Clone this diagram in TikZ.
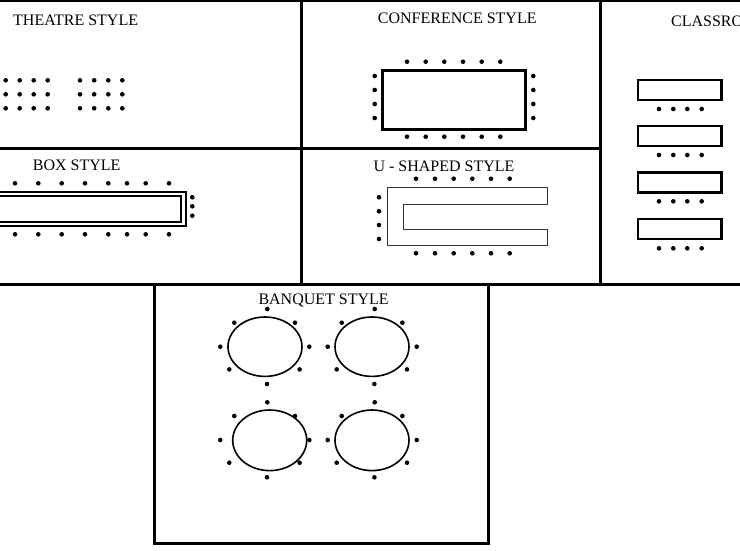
\documentclass[tikz,border=0pt]{standalone}
\usepackage{fontspec}
\setmainfont{Liberation Serif}
\begin{document}
\begin{tikzpicture}[x=1pt,y=-1pt,
  panel/.style={line width=3pt,line cap=rect},
  dotmark/.style={fill=black},
  title/.style={anchor=base west,inner sep=0pt,font=\fontsize{16}{18}\selectfont},
  tbl/.style={draw=black,line width=2.5pt},
  thin/.style={draw=black!80,line width=1pt},
  oval/.style={draw=black,line width=1.6pt}]
\useasboundingbox (0,0) rectangle (740,550);
\clip (0,0) rectangle (740,550);
\fill[white] (0,0) rectangle (740,550);
% panel frame
\draw[panel] (0,0.3) -- (740,0.3);
\draw[panel] (0,148.5) -- (600.5,148.5);
\draw[panel] (0,284.5) -- (740,284.5);
\draw[panel] (301.8,0) -- (301.8,284.5);
\draw[panel] (600.5,0) -- (600.5,284.5);
\draw[panel] (154,284.5) -- (154,543) -- (488,543) -- (488,284.5);
% titles
\node[title] (t1) at (13,25.5) {THEATRE STYLE};
\node[title] (t2) at (377.7,23.3) {CONFERENCE STYLE};
\node[title] (t3) at (671,26.7) {CLASSROOM STYLE};
\node[title] (t4) at (32.7,170) {BOX STYLE};
\node[title] (t5) at (373.3,171) {U - SHAPED STYLE};
\node[title] (t6) at (258.3,304.3) {BANQUET STYLE};
% theatre dots
\foreach \y in {80.3,94.3,108.3}{
  \foreach \x in {5.7,19.7,33.7,47.7,80,94.2,108.3,122.3}{
    \fill[dotmark] (\x,\y) circle (2.3);}}
% conference
\draw[tbl] (382.6,70.3) rectangle (525.6,129.7);
\foreach \x in {407,425.7,444.3,463,481.7,500.3}{
  \fill[dotmark] (\x,61.7) circle (2.3);
  \fill[dotmark] (\x,136.7) circle (2.3);}
\foreach \y in {76,90,104,118}{
  \fill[dotmark] (374.7,\y) circle (2.3);
  \fill[dotmark] (533.3,\y) circle (2.3);}
% classroom
\foreach \ya/\yb/\yd in {79/100.7/109,125/146.7/155,171.7/193.3/201.3,218.3/240/248.3}{
  \draw[tbl] (638.2,\ya+0.9) rectangle (721.4,\yb-0.9);
  \foreach \x in {659,673.3,687.3,701.7}{
    \fill[dotmark] (\x,\yd) circle (2.3);}}
% box style
\draw[draw=black,line width=2pt] (-5,191.7) -- (185.7,191.7) -- (185.7,226.3) -- (-5,226.3);
\draw[draw=black,line width=2pt] (-5,196) -- (180.7,196) -- (180.7,222.3) -- (-5,222.3);
\foreach \x in {15,38.3,61.7,85,108.3,127,145.7,169}{
  \fill[dotmark] (\x,183.3) circle (2.3);
  \fill[dotmark] (\x,234.3) circle (2.3);}
\foreach \y in {197.3,206.3,215.7}{
  \fill[dotmark] (192.3,\y) circle (2.3);}
% U-shaped
\draw[thin] (387,187) -- (547,187) -- (547,204.5) -- (403.5,204.5) -- (403.5,229) -- (547.5,229) -- (547.5,245) -- (387,245) -- cycle;
\foreach \x in {416,435,453.7,472.3,491,509.7}{
  \fill[dotmark] (\x,178.7) circle (2.3);
  \fill[dotmark] (\x,253.3) circle (2.3);}
\foreach \y in {197.3,211.3,225,239}{
  \fill[dotmark] (379,\y) circle (2.3);}
% banquet
\draw[oval] (265,346.7) ellipse (37 and 29.7);
\draw[oval] (372,346.7) ellipse (37 and 29.7);
\draw[oval] (269.7,440.3) ellipse (37 and 30.3);
\draw[oval] (372,440.3) ellipse (37 and 30.3);
\foreach \cx/\cy in {267.3/346.7,374.7/346.7,267.3/440,374.7/440}{
  \foreach \dx/\dy in {0/-37.7,-33/-24,27.7/-24,-47/0,42/0,-38/22.7,32.3/22.7,-0.3/37.3}{
    \fill[dotmark] (\cx+\dx,\cy+\dy) circle (2.3);}}
\end{tikzpicture}
\end{document}
